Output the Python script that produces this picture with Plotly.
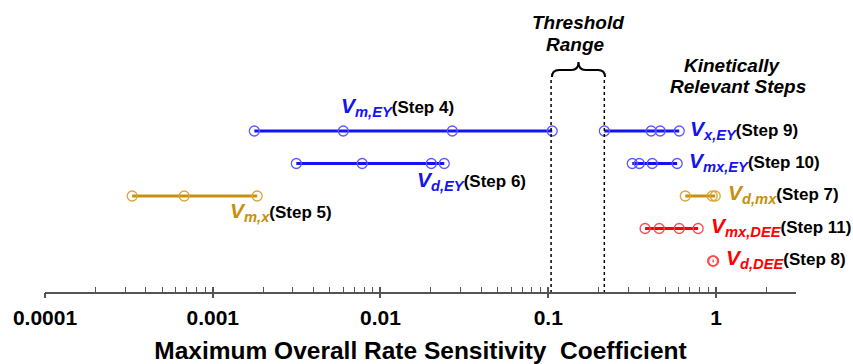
import math
import plotly.graph_objects as go

# ---------------- data ----------------
step_names = ["Step 4", "Step 6", "Step 5", "Step 9", "Step 10", "Step 7", "Step 11", "Step 8"]
step4 = [0.00177, 0.0060, 0.0268, 0.1056]
step6 = [0.00315, 0.00778, 0.0201, 0.0240]
step5 = [0.000331, 0.000676, 0.00184]
step9 = [0.216, 0.411, 0.465, 0.604]
step10 = [0.317, 0.349, 0.417, 0.587]
step7 = [0.656, 0.95, 0.99]
step11 = [0.378, 0.459, 0.604, 0.783]
step8 = [0.955, 0.968]
threshold = [0.104, 0.216]
tick_vals = [0.0001, 0.001, 0.01, 0.1, 1]
tick_text = ["0.0001", "0.001", "0.01", "0.1", "1"]

# ---------------- layout geometry ----------------
W, H = 853, 364
ML, MR, MT, MB = 45, 57, 0, 72
X_RANGE = [-4, math.log10(3)]
ROW0, ROWSTEP = 98.5, 32.5
Y_RANGE = [(H - MB - ROW0) / ROWSTEP, (MT - ROW0) / ROWSTEP]

BLUE, BLUE_M = "#1414f0", "#5a5aff"
GOLD, GOLD_M = "#c8900c", "#d9a73a"
RED, RED_M = "#ff0000", "#ff4a4a"

series = [
    (step4, 1, BLUE, BLUE_M),
    (step6, 2, BLUE, BLUE_M),
    (step5, 3, GOLD, GOLD_M),
    (step9, 1, BLUE, BLUE_M),
    (step10, 2, BLUE, BLUE_M),
    (step7, 3, GOLD, GOLD_M),
    (step11, 4, RED, RED_M),
    (step8, 5, RED, RED_M),
]

fig = go.Figure()
for (vals, row, lc, mc), name in zip(series, step_names):
    fig.add_trace(go.Scatter(
        x=vals, y=[row] * len(vals), mode="lines+markers", name=name,
        line=dict(color=lc, width=3),
        marker=dict(symbol="circle-open", size=10, color=mc, line=dict(width=1.3)),
        showlegend=False, cliponaxis=False,
    ))

top_row = (80 - ROW0) / ROWSTEP
for t in threshold:
    fig.add_trace(go.Scatter(
        x=[t, t], y=[top_row, Y_RANGE[0]], mode="lines",
        line=dict(color="black", width=1.5, dash="dot"), showlegend=False,
    ))

fig.add_trace(go.Scatter(x=[1], y=[1], xaxis="x2", mode="markers",
                         marker=dict(opacity=0), showlegend=False, hoverinfo="skip"))


def px(p):
    return (p - ML) / (W - ML - MR)


def py(p):
    return (H - MB - p) / (H - MT - MB)


FONT = "Arial, Liberation Sans, sans-serif"


def lab(sym, sub, color, step):
    return (f"<b><i><span style='color:{color};font-size:21px'>{sym}<sub>{sub}</sub></span></i>"
            f"({step})</b>")


labels = [
    (lab("V", "m,EY", BLUE, "Step 4"), 397, 107, "center"),
    (lab("V", "d,EY", BLUE, "Step 6"), 471, 181, "center"),
    (lab("V", "m,x", GOLD, "Step 5"), 281, 212, "center"),
    (lab("V", "x,EY", BLUE, "Step 9"), 688, 130, "left"),
    (lab("V", "mx,EY", BLUE, "Step 10"), 687, 162, "left"),
    (lab("V", "d,mx", GOLD, "Step 7"), 726, 194, "left"),
    (lab("V", "mx,DEE", RED, "Step 11"), 709, 227, "left"),
    (lab("V", "d,DEE", RED, "Step 8"), 724, 259, "left"),
]
annotations = []
for text, x, y, anc in labels:
    annotations.append(dict(text=text, x=px(x), y=py(y), xref="paper", yref="paper",
                            xanchor=anc, yanchor="middle", showarrow=False,
                            font=dict(family=FONT, size=17, color="black")))

for text, x, y in [("Threshold", 578, 23), ("Range", 575, 45),
                   ("Kinetically", 732, 65), ("Relevant Steps", 738, 87)]:
    annotations.append(dict(text=f"<b><i>{text}</i></b>", x=px(x), y=py(y),
                            xref="paper", yref="paper", xanchor="center", yanchor="middle",
                            showarrow=False, font=dict(family=FONT, size=19, color="black")))

x0, x1, xm = 552, 605, 578.5
ye, ymid, yt = 77, 70, 62
pts = lambda a, b: f"{px(a)},{py(b)}"
brace = (f"M {pts(x0, ye)} Q {pts(x0, ymid)} {pts(x0 + 7, ymid)} L {pts(xm - 7, ymid)} "
         f"Q {pts(xm, ymid)} {pts(xm, yt)} Q {pts(xm, ymid)} {pts(xm + 7, ymid)} "
         f"L {pts(x1 - 7, ymid)} Q {pts(x1, ymid)} {pts(x1, ye)}")

fig.update_layout(
    width=W, height=H,
    margin=dict(l=ML, r=MR, t=MT, b=MB),
    paper_bgcolor="white", plot_bgcolor="white",
    annotations=annotations,
    shapes=[dict(type="path", path=brace, xref="paper", yref="paper",
                 line=dict(color="black", width=2))],
    xaxis=dict(
        type="log", range=X_RANGE, showgrid=False, zeroline=False,
        showline=True, linecolor="#555555", linewidth=1.5,
        tickvals=tick_vals, ticktext=tick_text,
        ticks="inside", ticklen=5, tickwidth=1.5, tickcolor="#555555",
        minor=dict(ticks="inside", ticklen=5, tickwidth=1.2, tickcolor="#555555",
                   dtick="D1", showgrid=False),
        tickfont=dict(family=FONT, size=21, color="black", weight="bold"),
        title=dict(text="<b>Maximum Overall Rate Sensitivity  Coefficient</b>",
                   font=dict(family=FONT, size=24.5, color="black"), standoff=17),
        ticklabelstandoff=6,
    ),
    xaxis2=dict(
        type="log", range=X_RANGE, overlaying="x", anchor="y", side="bottom",
        showgrid=False, zeroline=False, showline=False, showticklabels=False,
        tickvals=tick_vals, ticks="outside", ticklen=5, tickwidth=1.5, tickcolor="#555555",
    ),
    yaxis=dict(range=Y_RANGE, visible=False, showgrid=False, zeroline=False),
)

fig.write_html("out.html")
